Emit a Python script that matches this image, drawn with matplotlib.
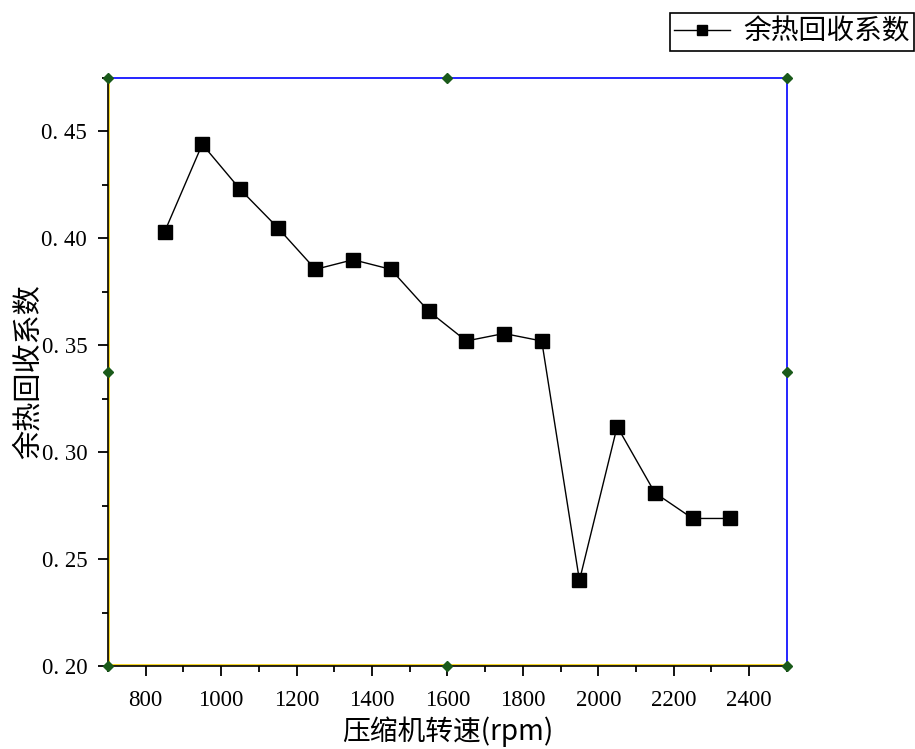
import numpy as np
import matplotlib
matplotlib.use('Agg')
import matplotlib.pyplot as plt
import matplotlib.transforms as mtransforms
from matplotlib.ticker import MultipleLocator

plt.rcParams['font.family'] = ['Noto Sans CJK SC', 'DejaVu Sans']

# data
speed = [850, 950, 1050, 1150, 1250, 1350, 1450, 1550, 1650, 1750, 1850,
         1950, 2050, 2150, 2250, 2350]
recovery = [0.403, 0.444, 0.423, 0.405, 0.3855, 0.390, 0.3855, 0.366, 0.352,
            0.3555, 0.352, 0.240, 0.312, 0.281, 0.269, 0.269]
series_name = '余热回收系数'
x_label = '压缩机转速(rpm)'
y_label = '余热回收系数'

fig = plt.figure(figsize=(9.15, 7.49), dpi=100)
ax = fig.add_axes([0.118, 0.1108, 0.742, 0.7851])

line, = ax.plot(speed, recovery, color='black', lw=1.0, marker='s',
                markersize=9.8, markerfacecolor='black', markeredgecolor='black',
                label=series_name, zorder=3)

ax.set_xlim(700, 2500)
ax.set_ylim(0.20, 0.475)
ax.xaxis.set_minor_locator(MultipleLocator(100))
ax.yaxis.set_minor_locator(MultipleLocator(0.025))
ax.set_xticks(np.arange(800, 2401, 200))
yt = np.arange(0.20, 0.451, 0.05)
ax.set_yticks(yt)
ax.set_yticklabels(['0. %02d' % round(v * 100) for v in yt])

for lab in ax.get_xticklabels() + ax.get_yticklabels():
    lab.set_family('Liberation Serif')
    lab.set_fontsize(16.5)

ax.tick_params(axis='y', which='major', direction='out', length=7, width=1.3, pad=8)
ax.tick_params(axis='x', which='major', direction='out', length=7, width=1.3, pad=10)
ax.tick_params(which='minor', direction='out', length=4, width=1.3)

ax.spines['left'].set_color('black')
ax.spines['bottom'].set_color('black')
ax.spines['top'].set_color('blue')
ax.spines['right'].set_color('blue')
for s in ax.spines.values():
    s.set_linewidth(1.2)
# yellow inner lines along left / bottom, shifted a pixel inside
ax.plot([700, 700], [0, 1], color='#f5d000', lw=1.2, zorder=2,
        transform=mtransforms.offset_copy(ax.get_xaxis_transform(), fig=fig, x=1.5, y=0, units='dots'),
        clip_on=False)
ax.plot([0, 1], [0.20, 0.20], color='#f5d000', lw=1.2, zorder=2,
        transform=mtransforms.offset_copy(ax.get_yaxis_transform(), fig=fig, x=0, y=1.5, units='dots'),
        clip_on=False)

# diamond markers on frame
dx = [700, 1600, 2500]
dy = [0.20, 0.3375, 0.475]
for xx in dx:
    for yy in dy:
        if xx == 1600 and yy == 0.3375:
            continue
        ax.plot(xx, yy, marker='D', color='#1a5a1a', markersize=5.5,
                clip_on=False, zorder=4)

ax.set_xlabel(x_label, fontsize=20, labelpad=4)
ax.set_ylabel(y_label, fontsize=21)
ax.yaxis.set_label_coords(-0.094, 0.5)

leg = fig.legend(handles=[line], loc='upper right', bbox_to_anchor=(0.999, 0.983),
                 fancybox=False, edgecolor='black', fontsize=20,
                 handlelength=2.0, handletextpad=0.5, borderpad=0.15,
                 borderaxespad=0, framealpha=1)
leg.get_frame().set_linewidth(1.2)
leg.legend_handles[0].set_markersize(7)

fig.savefig('out.png', dpi=100)
